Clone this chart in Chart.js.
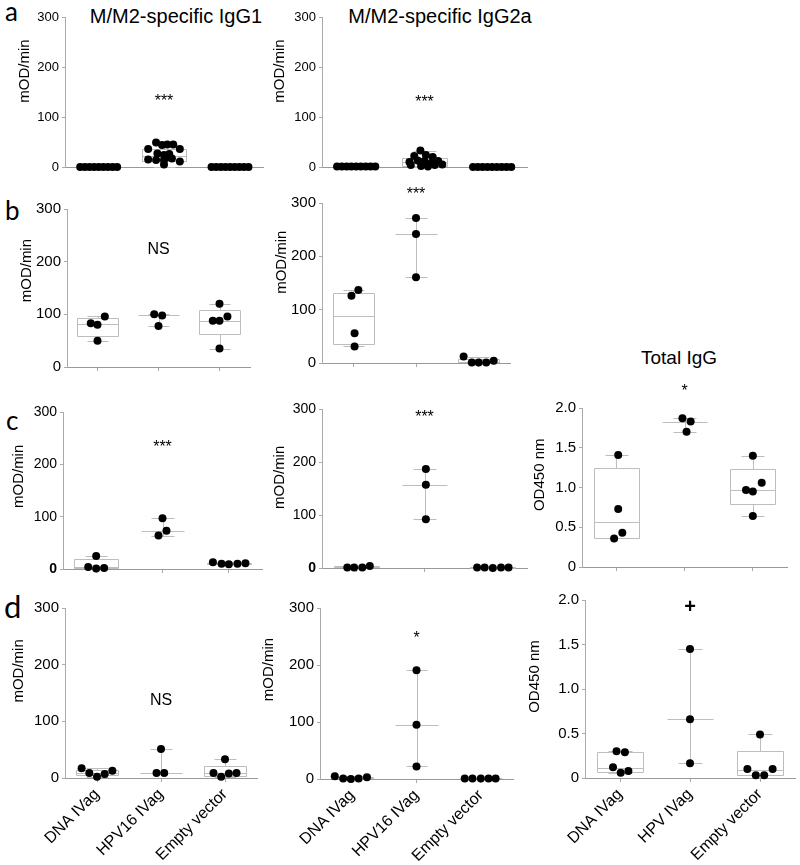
<!DOCTYPE html>
<html>
<head>
<meta charset="utf-8">
<script src="https://cdn.jsdelivr.net/npm/chart.js@4.4.1/dist/chart.umd.min.js"></script>
<style>
  body { margin: 0; background: #fff; width: 800px; height: 865px; position: relative; overflow: hidden; font-family: 'Liberation Sans', Arial, sans-serif; }
  canvas { position: absolute; }
  .txt { position: absolute; white-space: nowrap; line-height: 1; color: #000; }
  .letter { font-family: Lato, 'Open Sans', sans-serif; }
  .title { transform: translate(-50%, -50%); font-size: 20px; }
</style>
</head>
<body>
<div class="txt letter" style="left:5px;top:-2px;font-size:26px">a</div>
<div class="txt letter" style="left:5px;top:197px;font-size:26px">b</div>
<div class="txt letter" style="left:6px;top:407px;font-size:26px">c</div>
<div class="txt letter" style="left:4px;top:591px;font-size:31px">d</div>
<div class="txt title" style="left:176px;top:16px">M/M2-specific IgG1</div>
<div class="txt title" style="left:440px;top:16px">M/M2-specific IgG2a</div>
<div class="txt title" style="left:679px;top:357px;font-size:19px">Total IgG</div>

<script>
// group names
var groups = ['DNA IVag', 'HPV16 IVag', 'Empty vector'];
var groupsTotal = ['DNA IVag', 'HPV IVag', 'Empty vector'];

// points are [x, y]: x = group (1..3) with its jitter, y = value
// boxes are [min, q1, median, q3, max] per group

// a: M/M2-specific IgG1
var a1Points = [
  [0.73, 0], [0.80, 0], [0.87, 0], [0.94, 0], [1.01, 0], [1.08, 0], [1.15, 0], [1.22, 0], [1.29, 0],
  [1.88, 49], [1.97, 44], [2.05, 45], [2.14, 45], [1.76, 36], [2.24, 36], [1.90, 27], [2.00, 24],
  [2.08, 26], [1.76, 15], [1.88, 14], [2.00, 14], [2.12, 17], [2.24, 11], [2.00, 5], [2.06, 20],
  [2.72, 0], [2.79, 0], [2.86, 0], [2.93, 0], [3.00, 0], [3.07, 0], [3.14, 0], [3.21, 0], [3.28, 0]
];
var a1Boxes = [[0, 0, 0, 0, 0], [0, 12, 22, 37, 49], [0, 0, 0, 0, 0]];

// a: M/M2-specific IgG2a
var a2Points = [
  [0.72, 1], [0.79, 1], [0.86, 1], [0.93, 1], [1.00, 1], [1.07, 1], [1.14, 1], [1.21, 1], [1.28, 1],
  [1.94, 33], [1.85, 22], [2.02, 24], [2.12, 20], [1.78, 10], [1.90, 13], [2.00, 12], [2.10, 8],
  [2.20, 12], [2.26, 5], [1.80, 4], [1.95, 2], [2.05, 1], [2.15, 4],
  [2.71, 0], [2.78, 0], [2.85, 0], [2.92, 0], [2.99, 0], [3.06, 0], [3.13, 0], [3.20, 0], [3.27, 0]
];
var a2Boxes = [[0, 0, 1, 1, 1], [0, 3, 10, 18, 33], [0, 0, 0, 0, 0]];

// b
var b1Points = [
  [0.89, 83], [1.00, 80], [1.12, 96], [1.00, 50],
  [1.93, 100], [2.06, 98], [2.00, 78],
  [2.89, 88], [3.00, 88], [3.13, 96], [3.00, 120], [3.00, 35]
];
var b1Boxes = [[50, 59, 81, 93, 96], [78, 98, 98, 98, 100], [35, 62, 88, 108, 120]];

var b2Points = [
  [0.97, 126], [1.08, 137], [1.02, 56], [1.02, 31],
  [2.00, 272], [2.00, 242], [2.00, 161],
  [2.76, 12], [2.89, 1], [3.00, 1], [3.12, 1], [3.24, 4]
];
var b2Boxes = [[31, 35, 89, 132, 137], [161, 242, 242, 242, 272], [1, 1, 2, 7, 12]];

// c
var c1Points = [
  [1.00, 25], [0.88, 4], [1.00, 1], [1.12, 2],
  [2.00, 97], [2.06, 73], [1.94, 64],
  [2.76, 13], [2.89, 10], [3.00, 9], [3.13, 10], [3.25, 11]
];
var c1Boxes = [[1, 1, 3, 19, 25], [64, 73, 73, 73, 97], [9, 9.5, 10, 12, 13]];

var c2Points = [
  [0.87, 1], [0.97, 1], [1.09, 1], [1.20, 4],
  [2.02, 187], [2.02, 157], [2.02, 92],
  [2.77, 1], [2.88, 1], [3.00, 0], [3.12, 1], [3.23, 1]
];
var c2Boxes = [[1, 1, 1, 3, 4], [92, 157, 157, 157, 187], [0, 0.5, 1, 1, 1]];

var c3Points = [
  [1.03, 1.41], [1.03, 0.73], [1.09, 0.43], [0.97, 0.36],
  [1.97, 1.87], [2.09, 1.83], [2.03, 1.70],
  [3.00, 1.40], [3.13, 1.06], [2.90, 0.97], [3.00, 0.95], [3.00, 0.64]
];
var c3Boxes = [[0.36, 0.37, 0.57, 1.24, 1.41], [1.70, 1.83, 1.83, 1.83, 1.87], [0.64, 0.79, 0.97, 1.23, 1.40]];

// d
var d1Points = [
  [0.76, 17], [0.88, 9], [1.00, 2], [1.12, 7], [1.24, 13],
  [1.93, 9], [2.05, 9], [2.00, 51],
  [3.00, 33], [2.82, 9], [2.94, 2], [3.06, 8], [3.18, 9]
];
var d1Boxes = [[2, 5, 8, 15, 17], [9, 9, 9, 9, 51], [2, 4, 8, 22, 33]];

var d2Points = [
  [0.73, 5], [0.86, 1], [0.98, 0], [1.10, 1], [1.23, 3],
  [2.00, 191], [2.00, 95], [2.00, 22],
  [2.75, 1], [2.87, 1], [3.00, 1], [3.12, 1], [3.23, 1]
];
var d2Boxes = [[0, 1, 1, 3, 5], [22, 95, 95, 95, 191], [1, 1, 1, 1, 1]];

var d3Points = [
  [0.95, 0.30], [1.07, 0.29], [0.90, 0.12], [1.01, 0.06], [1.12, 0.08],
  [2.00, 1.45], [2.00, 0.66], [2.00, 0.165],
  [3.00, 0.49], [2.82, 0.10], [2.94, 0.03], [3.06, 0.03], [3.18, 0.10]
];
var d3Boxes = [[0.06, 0.064, 0.11, 0.29, 0.30], [0.165, 0.66, 0.66, 0.66, 1.45], [0.03, 0.03, 0.09, 0.30, 0.49]];

// significance marks: [text, value where it sits]
var marks = {
  a1: ['***', 138], a2: ['***', 136], b1: ['NS', 222], b2: ['***', 323], c1: ['***', 239],
  c2: ['***', 290], c3: ['*', 2.25], d1: ['NS', 136], d2: ['*', 253], d3: ['+', 1.92]
};

var FONT = "'Liberation Sans', Arial, sans-serif";

// layout of each panel on the page (axis corner, top of axis, right end of x axis)
var panels = [
  { id: 'a1', pts: a1Points, boxes: a1Boxes, L: 65, R: 263, T: 17, B: 167, max: 300, fs: 13, tx: 25, tf: 0.64, padTop: 14, xTicks: false },
  { id: 'a2', pts: a2Points, boxes: a2Boxes, L: 322, R: 527, T: 17, B: 167, max: 300, fs: 13, tx: 280, tf: 0.64, padTop: 14, xTicks: false },
  { id: 'b1', pts: b1Points, boxes: b1Boxes, L: 67, R: 250, T: 209, B: 367, max: 300, fs: 15, tx: 27, tf: 0.61, padTop: 30, xTicks: true },
  { id: 'b2', pts: b2Points, boxes: b2Boxes, L: 322, R: 510, T: 203, B: 363, max: 300, fs: 15, tx: 282, tf: 0.63, padTop: 30, xTicks: true },
  { id: 'c1', pts: c1Points, boxes: c1Boxes, L: 63, R: 262, T: 412, B: 569, max: 300, fs: 14, tx: 19, tf: 0.59, padTop: 30, xTicks: true, boldZero: true },
  { id: 'c2', pts: c2Points, boxes: c2Boxes, L: 322, R: 527, T: 409, B: 568, max: 300, fs: 14, tx: 280, tf: 0.57, padTop: 30, xTicks: true, boldZero: true },
  { id: 'c3', pts: c3Points, boxes: c3Boxes, L: 582, R: 787, T: 408, B: 567, max: 2, fs: 15, tx: 540, tf: 0.58, padTop: 30, xTicks: true },
  { id: 'd1', pts: d1Points, boxes: d1Boxes, L: 65, R: 257, T: 608, B: 778, max: 300, fs: 15, tx: 19, tf: 0.63, padTop: 30, xTicks: true, labels: groups },
  { id: 'd2', pts: d2Points, boxes: d2Boxes, L: 320, R: 513, T: 608, B: 779, max: 300, fs: 15, tx: 269, tf: 0.64, padTop: 30, xTicks: true, labels: groups },
  { id: 'd3', pts: d3Points, boxes: d3Boxes, L: 585, R: 795, T: 600, B: 778, max: 2, fs: 15, tx: 535, tf: 0.57, padTop: 30, xTicks: true, labels: groupsTotal }
];

var AXIS_W = 60;

function extras(p, left) {
  return {
    id: 'extras',
    beforeDatasetsDraw: function (chart) {
      var ctx = chart.ctx, x = chart.scales.x, y = chart.scales.y;
      var px = function (v) { return Math.round(x.getPixelForValue(v)) + 0.5; };
      var py = function (v) { return Math.round(y.getPixelForValue(v)) + 0.5; };
      ctx.save();
      ctx.strokeStyle = '#bdbdbd';
      ctx.lineWidth = 1;
      p.boxes.forEach(function (b, i) {
        var c = i + 1;
        var bl = px(c - 0.33), br = px(c + 0.33), cl = px(c - 0.17), cr = px(c + 0.17), cx = px(c);
        ctx.beginPath();
        if (b[3] > b[1]) ctx.rect(bl, py(b[3]), br - bl, py(b[1]) - py(b[3]));
        ctx.moveTo(bl, py(b[2])); ctx.lineTo(br, py(b[2]));
        ctx.moveTo(cx, py(b[3])); ctx.lineTo(cx, py(b[4]));
        ctx.moveTo(cx, py(b[1])); ctx.lineTo(cx, py(b[0]));
        if (b[4] > b[3]) { ctx.moveTo(cl, py(b[4])); ctx.lineTo(cr, py(b[4])); }
        if (b[0] < b[1]) { ctx.moveTo(cl, py(b[0])); ctx.lineTo(cr, py(b[0])); }
        ctx.stroke();
      });
      ctx.restore();
    },
    afterDraw: function (chart) {
      var ctx = chart.ctx, y = chart.scales.y, x = chart.scales.x;
      ctx.save();
      ctx.fillStyle = '#000';
      // axis title
      ctx.translate(p.tx - left, y.bottom - p.tf * (y.bottom - y.top));
      ctx.rotate(-Math.PI / 2);
      ctx.textAlign = 'center';
      ctx.textBaseline = 'middle';
      ctx.font = '15px ' + FONT;
      ctx.fillText(p.max === 2 ? 'OD450 nm' : 'mOD/min', 0, 0);
      ctx.restore();
      // significance mark
      var m = marks[p.id];
      ctx.save();
      ctx.fillStyle = '#000';
      ctx.textAlign = 'center';
      ctx.textBaseline = 'middle';
      var size = m[0] === '+' ? 20 : 16;
      ctx.font = (m[0] === '+' ? 'bold ' : '') + size + 'px ' + FONT;
      var shift = m[0].charAt(0) === '*' ? size * 0.22 : 0;
      ctx.fillText(m[0], x.getPixelForValue(2), y.getPixelForValue(m[1]) + shift);
      ctx.restore();
    }
  };
}

panels.forEach(function (p) {
  var padRight = 12;
  var hx = p.labels ? 90 : 20;
  var left = p.L - AXIS_W;
  var top = p.T - p.padTop;
  var w = AXIS_W + (p.R - p.L) + padRight;
  var h = p.padTop + (p.B - p.T) + hx;
  var canvas = document.createElement('canvas');
  canvas.width = w; canvas.height = h;
  canvas.style.left = left + 'px'; canvas.style.top = top + 'px';
  canvas.style.width = w + 'px'; canvas.style.height = h + 'px';
  document.body.appendChild(canvas);

  new Chart(canvas.getContext('2d'), {
    type: 'scatter',
    data: {
      datasets: [{
        data: p.pts.map(function (d) { return { x: d[0], y: d[1] }; }),
        pointRadius: 4,
        pointBackgroundColor: '#000',
        pointBorderWidth: 0,
        clip: false
      }]
    },
    options: {
      responsive: false,
      animation: false,
      devicePixelRatio: 1,
      layout: { padding: { top: p.padTop, right: padRight, left: 0, bottom: 0 } },
      plugins: { legend: { display: false }, tooltip: { enabled: false } },
      scales: {
        x: {
          type: 'linear',
          min: 0.5,
          max: 3.5,
          afterBuildTicks: function (s) { s.ticks = [1, 2, 3].map(function (v) { return { value: v }; }); },
          ticks: {
            display: !!p.labels,
            callback: function (v) { return p.labels ? p.labels[v - 1] : ''; },
            minRotation: 45,
            maxRotation: 45,
            padding: 3,
            color: '#000',
            font: { family: FONT, size: 16 }
          },
          grid: { drawOnChartArea: false, drawTicks: p.xTicks, tickLength: 4, color: '#aaa' },
          border: { color: '#999' },
          afterFit: function (s) { s.height = hx; }
        },
        y: {
          min: 0,
          max: p.max,
          ticks: {
            stepSize: p.max === 2 ? 0.5 : 100,
            padding: 3,
            color: '#000',
            callback: function (v) { return v === 0 ? '0' : (p.max === 2 ? v.toFixed(1) : v); },
            font: function (c) {
              return { family: FONT, size: p.fs, weight: (p.boldZero && c.tick && c.tick.value === 0) ? 'bold' : 'normal' };
            }
          },
          grid: { drawOnChartArea: false, tickLength: 3, color: '#aaa' },
          border: { color: '#aaa' },
          afterFit: function (s) { s.width = AXIS_W; }
        }
      }
    },
    plugins: [extras(p, left)]
  });
});
</script>
</body>
</html>
